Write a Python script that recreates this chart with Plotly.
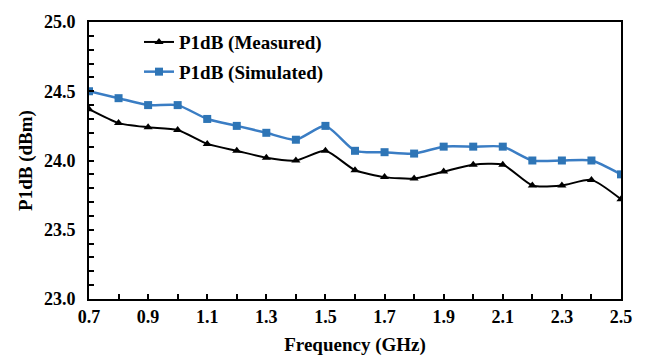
import plotly.graph_objects as go

freq = [0.7, 0.8, 0.9, 1.0, 1.1, 1.2, 1.3, 1.4, 1.5, 1.6, 1.7, 1.8, 1.9, 2.0, 2.1, 2.2, 2.3, 2.4, 2.5]
measured = [24.37, 24.27, 24.24, 24.22, 24.12, 24.07, 24.02, 24.00, 24.07, 23.93, 23.88, 23.87, 23.92, 23.97, 23.97, 23.82, 23.82, 23.86, 23.72]
simulated = [24.50, 24.45, 24.40, 24.40, 24.30, 24.25, 24.20, 24.15, 24.25, 24.07, 24.06, 24.05, 24.10, 24.10, 24.10, 24.00, 24.00, 24.00, 23.90]
x_ticks = [0.7, 0.9, 1.1, 1.3, 1.5, 1.7, 1.9, 2.1, 2.3, 2.5]
y_ticks = [23.0, 23.5, 24.0, 24.5, 25.0]

FONT = "Liberation Serif"

fig = go.Figure()
fig.add_trace(go.Scatter(
    x=freq, y=measured, name="<b>P1dB (Measured)</b>", mode="lines+markers",
    line=dict(color="black", width=2, shape="spline", smoothing=0.6),
    marker=dict(symbol="triangle-up", size=8, color="black"),
    legendgroup="m"))
fig.add_trace(go.Scatter(
    x=freq, y=simulated, name="<b>P1dB (Simulated)</b>", mode="lines+markers",
    line=dict(color="#3A7DC4", width=2.5, shape="spline", smoothing=0.6),
    marker=dict(symbol="square", size=8, color="#2E75B6"),
    legendgroup="s"))

fig.update_layout(
    width=648, height=364,
    margin=dict(l=89, r=27, t=16, b=62),
    paper_bgcolor="white", plot_bgcolor="white",
    font=dict(family=FONT, size=18, color="black"),
    showlegend=True,
    legend=dict(x=0.094, y=0.996, xanchor="left", yanchor="top",
                bgcolor="rgba(0,0,0,0)", font=dict(family=FONT, size=19, color="black"),
                traceorder="grouped", tracegroupgap=2, itemwidth=30),
    xaxis=dict(
        range=[0.7, 2.5], tickvals=x_ticks, ticktext=[f"<b>{v:.1f}</b>" for v in x_ticks],
        showgrid=False, zeroline=False, showline=True, linecolor="black", linewidth=2,
        mirror=True, ticks="inside", ticklen=5, tickwidth=1.5, tickcolor="black",
        minor=dict(dtick=0.1, tick0=0.7, ticks="inside", ticklen=5, tickwidth=1.5, tickcolor="black"),
        title=dict(text="<b>Frequency (GHz)</b>", font=dict(family=FONT, size=19), standoff=12),
        tickfont=dict(family=FONT, size=18)),
    yaxis=dict(
        range=[23.0, 25.0], tickvals=y_ticks, ticktext=[f"<b>{v:.1f}</b>" for v in y_ticks],
        showgrid=False, zeroline=False, showline=True, linecolor="black", linewidth=2,
        mirror=True, ticks="inside", ticklen=5, tickwidth=1.5, tickcolor="black",
        minor=dict(dtick=0.1, tick0=23.0, ticks="inside", ticklen=5, tickwidth=1.5, tickcolor="black"),
        ticklabelstandoff=8,
        title=dict(text="<b>P1dB (dBm)</b>", font=dict(family=FONT, size=19), standoff=6),
        tickfont=dict(family=FONT, size=18)),
)

fig.write_html("out.html")
